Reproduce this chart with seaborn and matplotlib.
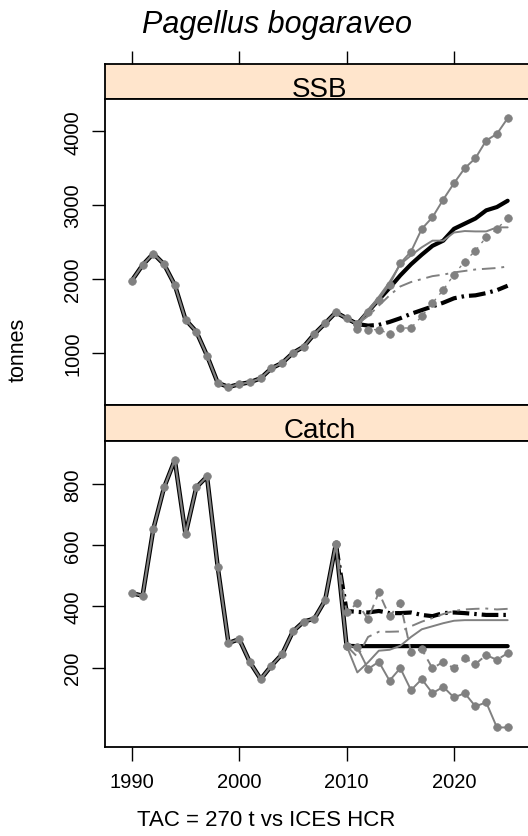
import matplotlib
matplotlib.use("Agg")
import matplotlib.pyplot as plt
import seaborn as sns

# ------------------------------------------
# Data
# ------------------------------------------

hist_years = list(range(1990, 2012))
ssb_hist = [1980, 2190, 2345, 2200, 1920, 1450, 1290, 965, 595, 540, 577,
            604, 658, 793, 865, 1000, 1085, 1257, 1401, 1550, 1469, 1392]

catch_hist_years = list(range(1990, 2011))
catch_hist = [443, 435, 653, 789, 879, 636, 789, 825, 528, 280, 293,
              217, 162, 206, 244, 318, 350, 360, 420, 604, 271]

proj_years = list(range(2011, 2026))
ssb_tac_med = [1392, 1560, 1720, 1880, 2050, 2200, 2330, 2450, 2520, 2680,
               2750, 2820, 2930, 2975, 3060]
ssb_tac_low = [1392, 1370, 1380, 1420, 1470, 1530, 1580, 1630, 1680, 1740,
               1770, 1780, 1810, 1850, 1910]
ssb_hcr_med = [1392, 1580, 1760, 1960, 2200, 2320, 2430, 2520, 2520, 2630,
               2650, 2645, 2645, 2700, 2700]
ssb_hcr_low = [1392, 1500, 1640, 1780, 1900, 1960, 2000, 2040, 2060, 2090,
               2110, 2130, 2140, 2150, 2170]
ssb_iter_a = [1392, 1551, 1722, 1925, 2214, 2372, 2679, 2837, 3076, 3297,
              3500, 3636, 3875, 3965, 4177]
ssb_iter_b = [1330, 1316, 1316, 1257, 1338, 1338, 1497, 1677, 1853, 2061,
              2237, 2386, 2566, 2679, 2823]

catch_years = list(range(2010, 2026))
catch_years_b = list(range(2009, 2026))
catch_tac_med = [271, 270, 270, 270, 270, 270, 270, 270, 270, 270,
                 270, 270, 270, 270, 270, 270]
catch_tac_low = [604, 385, 382, 380, 385, 378, 378, 380, 372, 368,
                 378, 380, 378, 375, 372, 372, 372]
catch_hcr_med = [271, 184, 217, 255, 258, 271, 300, 325, 335, 345,
                 353, 355, 355, 355, 355, 355]
catch_hcr_low = [271, 235, 300, 317, 317, 318, 335, 350, 362, 375,
                 385, 390, 392, 393, 390, 392]
catch_iter_a = [271, 266, 195, 219, 157, 198, 126, 162, 116, 137,
                102, 116, 73, 86, 4, 4]
catch_iter_b = [604, 380, 411, 358, 446, 367, 411, 250, 260, 197,
                219, 197, 231, 211, 241, 225, 247]

x_ticks = [1990, 2000, 2010, 2020]
ssb_ticks = [1000, 2000, 3000, 4000]
catch_ticks = [200, 400, 600, 800]

# ------------------------------------------
# Style
# ------------------------------------------

sns.set_style("white")
plt.rcParams["font.family"] = ["Liberation Sans", "DejaVu Sans"]
plt.rcParams["text.color"] = "black"
plt.rcParams["xtick.color"] = "black"
plt.rcParams["ytick.color"] = "black"
plt.rcParams["axes.labelcolor"] = "black"

GREY = "#808080"
STRIP = "#FFE5CC"
W, H = 528, 837
X_LIM = (1987.5, 2027.5)


def box(left, top, right, bottom):
    return [left / W, 1 - bottom / H, (right - left) / W, (bottom - top) / H]


def draw(ax, x, y, color, lw, ls="-", marker=None):
    sns.lineplot(x=x, y=y, ax=ax, color=color, linewidth=lw, linestyle=ls,
                 marker=marker, markersize=5.5, markeredgecolor=color,
                 markeredgewidth=0.5, estimator=None, errorbar=None,
                 sort=False)


fig = plt.figure(figsize=(W / 100, H / 100), dpi=100)

strip1 = fig.add_axes(box(105, 65, 534.5, 100))
ax1 = fig.add_axes(box(105, 100, 534.5, 406))
strip2 = fig.add_axes(box(105, 406, 534.5, 442))
ax2 = fig.add_axes(box(105, 442, 534.5, 747.7))

for strip, label, base in [(strip1, "SSB", 0.09), (strip2, "Catch", 0.12)]:
    strip.set_facecolor(STRIP)
    strip.set_xlim(X_LIM)
    strip.set_ylim(0, 1)
    strip.set_yticks([])
    strip.text(319.75 / W, base, label, transform=strip.transAxes,
               ha="center", va="baseline", fontsize=20)
    for s in strip.spines.values():
        s.set_linewidth(1.3)
        s.set_color("black")

strip1.xaxis.tick_top()
strip1.set_xticks(x_ticks)
strip1.set_xticklabels([])
strip1.tick_params(axis="x", direction="out", length=9.5, width=1)
strip2.set_xticks([])
# strip label centred on the whole panel width (panel runs past the crop)
for strip in (strip1, strip2):
    strip.texts[0].set_x(0.5)

dash_thick = (0, (4, 1.2, 0.6, 1.2))
dash_thin = (0, (7, 3, 1.5, 3))

# SSB panel
draw(ax1, hist_years, ssb_hist, "black", 3.2)
draw(ax1, proj_years, ssb_tac_med, "black", 3.0)
draw(ax1, proj_years, ssb_tac_low, "black", 3.0, dash_thick)
draw(ax1, proj_years, ssb_hcr_med, GREY, 1.4)
draw(ax1, proj_years, ssb_hcr_low, GREY, 1.4, dash_thin)
draw(ax1, proj_years, ssb_iter_a, GREY, 1.4, "-", "o")
draw(ax1, proj_years, ssb_iter_b, GREY, 1.0, (0, (2, 4)), "o")
draw(ax1, hist_years, ssb_hist, GREY, 1.6, "-", "o")

# Catch panel
draw(ax2, catch_hist_years, catch_hist, "black", 3.2)
draw(ax2, catch_years, catch_tac_med, "black", 3.0)
draw(ax2, catch_years_b, catch_tac_low, "black", 3.0, dash_thick)
draw(ax2, catch_years, catch_hcr_med, GREY, 1.4)
draw(ax2, catch_years, catch_hcr_low, GREY, 1.4, dash_thin)
draw(ax2, catch_years, catch_iter_a, GREY, 1.4, "-", "o")
draw(ax2, catch_years_b, catch_iter_b, GREY, 1.4, (0, (5, 3)), "o")
draw(ax2, catch_hist_years, catch_hist, GREY, 1.6, "-", "o")

for ax, ylim, ticks in [(ax1, (296, 4437), ssb_ticks),
                        (ax2, (-59, 941), catch_ticks)]:
    ax.set_xlim(X_LIM)
    ax.set_ylim(ylim)
    ax.set_yticks(ticks)
    ax.set_yticklabels([str(t) for t in ticks], rotation=90, va="center",
                       fontsize=14.5)
    ax.tick_params(axis="y", direction="out", length=9.5, width=1, pad=7,
                   left=True)
    ax.set_xlabel("")
    ax.set_ylabel("")
    for s in ax.spines.values():
        s.set_linewidth(1.3)
        s.set_color("black")

ax1.set_xticks([])
ax2.set_xticks(x_ticks)
ax2.set_xticklabels([str(t) for t in x_ticks], fontsize=14.5)
ax2.tick_params(axis="x", direction="out", length=10, width=1, pad=8,
                bottom=True)

fig.text(277 / W, 1 - 33 / H, "Pagellus bogaraveo", ha="center",
         va="baseline", fontsize=22, style="italic")
fig.text(18 / W, 1 - 350 / H, "tonnes", ha="center", va="center",
         rotation=90, fontsize=15.5)
fig.text(266 / W, 1 - 826 / H, "TAC = 270 t vs ICES HCR", ha="center",
         va="baseline", fontsize=16)

fig.savefig("out.png", dpi=100)
